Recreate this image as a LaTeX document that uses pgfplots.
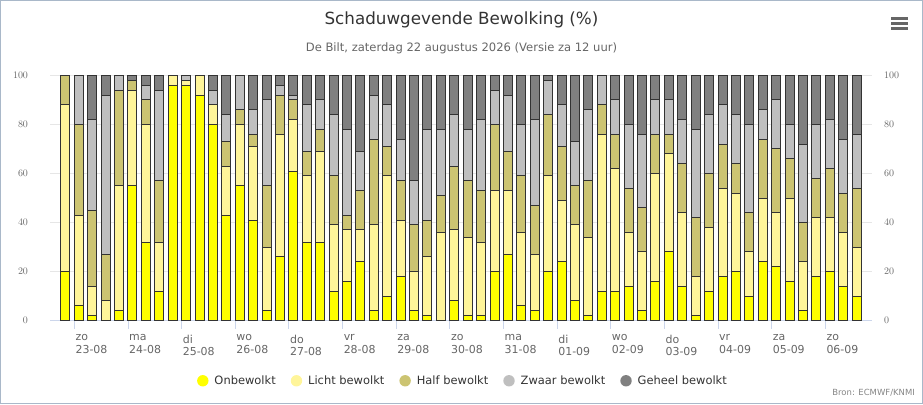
\documentclass[border=0pt]{standalone}
\usepackage{pgfplots}
\pgfplotsset{compat=1.18}
\usepackage{pgfplotstable}
\usepackage{fontspec}
\setmainfont{DejaVu Sans}
\definecolor{c1}{HTML}{FFFF00}
\definecolor{c2}{HTML}{FFF59A}
\definecolor{c3}{HTML}{CCC472}
\definecolor{c4}{HTML}{BFBFBF}
\definecolor{c5}{HTML}{808080}
\definecolor{bord}{HTML}{333333}
\definecolor{txt}{HTML}{666666}
\definecolor{ttl}{HTML}{333333}
\definecolor{axl}{HTML}{CCD6EB}
\definecolor{grd}{HTML}{E6E6E6}
\definecolor{frm}{HTML}{A9B8C9}
\pgfplotstableread{
x a b c d e
0 20 68 12 0 0
1 6 37 37 20 0
2 2 12 31 37 18
3 0 8 19 65 8
4 4 51 39 6 0
5 55 39 4 0 2
6 32 48 10 6 4
7 12 20 25 37 6
8 96 4 0 0 0
9 96 2 0 2 0
10 92 8 0 0 0
11 80 8 0 6 6
12 43 20 10 11 16
13 55 25 6 14 0
14 41 30 5 10 14
15 4 26 25 35 10
16 26 50 16 4 4
17 61 21 8 2 8
18 32 27 10 19 12
19 32 37 9 12 10
20 12 27 20 25 16
21 16 21 6 35 22
22 24 13 16 16 31
23 4 35 35 18 8
24 10 49 12 17 12
25 18 23 16 17 26
26 4 16 19 18 43
27 2 24 15 37 22
28 0 36 15 27 22
29 8 29 26 21 16
30 2 32 23 21 22
31 2 30 21 29 18
32 20 33 27 14 6
33 27 26 16 23 8
34 6 30 23 21 20
35 4 23 20 35 18
36 20 39 25 14 2
37 24 25 22 17 12
38 8 31 16 18 27
39 2 32 23 29 14
40 12 64 12 12 0
41 12 50 14 14 10
42 14 22 18 26 20
43 4 24 18 30 24
44 16 44 16 14 10
45 28 40 8 14 10
46 14 30 20 18 18
47 2 16 24 36 22
48 12 26 22 24 16
49 18 36 18 16 12
50 20 32 12 20 16
51 10 18 16 36 20
52 24 26 24 12 14
53 22 22 26 20 10
54 16 34 16 14 20
55 4 20 16 32 28
56 18 24 16 22 20
57 20 22 20 20 18
58 14 22 16 22 26
59 10 20 24 22 24
}\cloud
\begin{document}
\begin{tikzpicture}[x=1bp,y=1bp]
\useasboundingbox (0,0) rectangle (923,404);
\draw[frm, line width=1bp] (0.5,0.5) rectangle (922.5,403.5);
\node[font=\fontsize{16.8}{20}\selectfont, text=ttl] at (461.5,384) {Schaduwgevende Bewolking (\%)};
\node[font=\fontsize{11.6}{14}\selectfont, text=txt] at (461.5,356) {De Bilt, zaterdag 22 augustus 2026 (Versie za 12 uur)};
\node[font=\fontsize{8.5}{10}\selectfont, text=txt!80, anchor=east, inner sep=0pt] at (915,11) {Bron: ECMWF/KNMI};
\foreach \yy in {385.7,380.7,375.7} \draw[txt, line width=2.6bp] (891,\yy) -- (908,\yy);
\begin{axis}[
  at={(50bp,83.5bp)}, anchor=south west,
  width=822bp, height=245bp, scale only axis,
  xmin=-1.15, xmax=60.15, ymin=0, ymax=100,
  ybar stacked, bar width=9bp,
  ytick={0,20,40,60,80,100},
  xtick={0.6667,4.6667,8.6667,12.6667,16.6667,20.6667,24.6667,28.6667,32.6667,36.6667,40.6667,44.6667,48.6667,52.6667,56.6667},
  xticklabels={{zo\\23-08},{ma\\24-08},{di\\25-08},{wo\\26-08},{do\\27-08},{vr\\28-08},{za\\29-08},{zo\\30-08},{ma\\31-08},{di\\01-09},{wo\\02-09},{do\\03-09},{vr\\04-09},{za\\05-09},{zo\\06-09}},
  xticklabel style={anchor=north west, align=left, font=\fontsize{11}{12.5}\selectfont, text=txt, inner sep=0pt, xshift=1bp, yshift=-6bp},
  yticklabel style={font=\fontsize{10}{11}\selectfont, text=txt, xshift=-10.5bp},
  ymajorgrids, grid style={grd, line width=1bp},
  axis x line*=bottom, axis y line*=left,
  x axis line style={axl, line width=1bp, -},
  y axis line style={draw=none},
  tick align=outside, major tick length=8bp,
  xtick style={axl, line width=1bp},
  ytick style={draw=none},
  legend columns=5,
  legend style={draw=none, fill=none, at={(0.5024,-0.246)}, anchor=center,
    font=\fontsize{11.5}{13}\selectfont, text=ttl,
    /tikz/every odd column/.append style={column sep=4bp},
    /tikz/every even column/.append style={column sep=13bp}},
  legend image code/.code={\fill[draw=none] (0bp,0bp) circle (5.7bp);},
]
\addplot[fill=c1, draw=bord, line width=1bp] table[x=x,y=a]{\cloud};
\addplot[fill=c2, draw=bord, line width=1bp] table[x=x,y=b]{\cloud};
\addplot[fill=c3, draw=bord, line width=1bp] table[x=x,y=c]{\cloud};
\addplot[fill=c4, draw=bord, line width=1bp] table[x=x,y=d]{\cloud};
\addplot[fill=c5, draw=bord, line width=1bp] table[x=x,y=e]{\cloud};
\legend{Onbewolkt,Licht bewolkt,Half bewolkt,Zwaar bewolkt,Geheel bewolkt}
\end{axis}
\begin{axis}[
  at={(50bp,83.5bp)}, anchor=south west,
  width=822bp, height=245bp, scale only axis,
  xmin=-1.15, xmax=60.15, ymin=0, ymax=100,
  axis x line=none, axis y line*=right,
  y axis line style={draw=none}, ytick style={draw=none},
  ytick={0,20,40,60,80,100},
  yticklabel style={font=\fontsize{10}{11}\selectfont, text=txt, xshift=8.5bp},
]
\end{axis}
\end{tikzpicture}
\end{document}
